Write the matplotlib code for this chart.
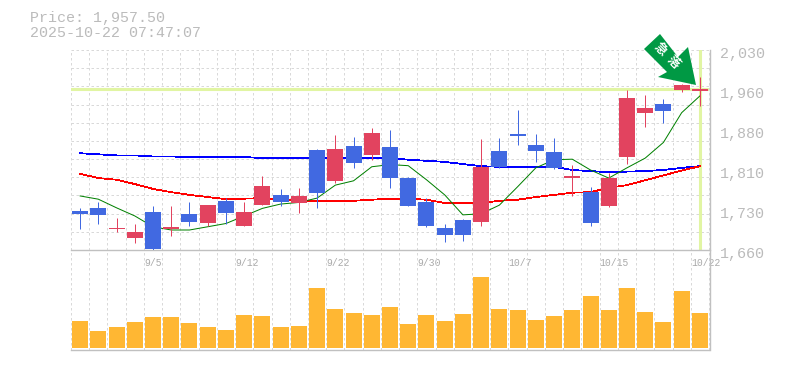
import matplotlib
matplotlib.use("Agg")
import matplotlib.pyplot as plt
from matplotlib.patches import Polygon

COLOR_UP = "#e2435f"
COLOR_DOWN = "#4169e1"
COLOR_VOL = "#ffb733"
COLOR_GRID = "#d9d9d9"
COLOR_AXIS = "#c0c0c0"
COLOR_TEXT = "#bbbbbb"
COLOR_MARK = "#e1f5a3"
COLOR_ARROW = "#009944"

PRICE_TOP = 2030
PRICE_BOTTOM = 1660
CURRENT = 1957.5

price_ticks = [2030, 1956, 1882, 1808, 1734, 1660]
price_labels = ["2,030", "1,960", "1,880", "1,810", "1,730", "1,660"]
date_pos = [4, 9, 14, 19, 24, 29, 34]
date_labels = ["9/5", "9/12", "9/22", "9/30", "10/7", "10/15", "10/22"]

opens = [1732, 1738, 1699, 1682, 1730, 1699, 1727, 1710, 1751, 1704, 1743, 1762, 1747,
         1845, 1788, 1852, 1836, 1851, 1793, 1749, 1701, 1716, 1712, 1843, 1875, 1854,
         1841, 1793, 1767, 1741, 1832, 1913, 1930, 1956, 1954]
closes = [1727, 1725, 1701, 1693, 1662, 1703, 1712, 1743, 1728, 1730, 1778, 1749, 1760,
          1765, 1847, 1821, 1876, 1793, 1741, 1704, 1688, 1688, 1814, 1814, 1871, 1843,
          1812, 1797, 1710, 1793, 1941, 1923, 1917, 1965, 1957.5]
highs = [1738, 1749, 1719, 1708, 1741, 1741, 1749, 1743, 1756, 1749, 1797, 1773, 1775,
         1847, 1873, 1869, 1886, 1882, 1795, 1756, 1708, 1717, 1865, 1867, 1919, 1875,
         1867, 1817, 1777, 1802, 1956, 1947, 1939, 1967, 1980]
lows = [1699, 1708, 1693, 1673, 1658, 1686, 1704, 1704, 1708, 1704, 1743, 1741, 1728,
        1738, 1784, 1812, 1826, 1775, 1741, 1703, 1675, 1677, 1704, 1812, 1854, 1823,
        1810, 1760, 1704, 1740, 1819, 1888, 1895, 1952, 1926]

ma_short = [1760, 1754, 1738, 1723, 1703, 1697, 1697, 1703, 1709, 1723, 1737, 1745, 1748,
            1756, 1780, 1788, 1814, 1818, 1816, 1790, 1762, 1725, 1727, 1743, 1777, 1812,
            1827, 1828, 1808, 1793, 1812, 1830, 1859, 1914, 1945]
ma_mid = [1801, 1793, 1790, 1782, 1773, 1767, 1762, 1758, 1754, 1755, 1756, 1753, 1751,
          1751, 1751, 1751, 1753, 1755, 1755, 1753, 1747, 1747, 1747, 1751, 1753, 1758,
          1762, 1766, 1767, 1775, 1780, 1789, 1798, 1807, 1815]
ma_long = [1839, 1837, 1835, 1835, 1833, 1833, 1832, 1832, 1832, 1832, 1830, 1830, 1830,
           1830, 1830, 1830, 1830, 1830, 1827, 1825, 1823, 1819, 1815, 1814, 1814, 1814,
           1814, 1808, 1806, 1804, 1805, 1806, 1808, 1812, 1815]

volumes = [27, 17, 21, 26, 31, 31, 25, 21, 18, 33, 32, 21, 22, 60, 39, 35, 33, 41,
           24, 33, 27, 34, 71, 39, 38, 28, 32, 38, 52, 38, 60, 36, 26, 57, 35]

n = len(closes)
fig = plt.figure(figsize=(7.85, 3.70), dpi=100)
W, H = 785, 370
L, R = 71, 709
PX = 0.72
mono = "Liberation Mono"


def make_ax(top, bottom):
    return fig.add_axes([L / W, 1 - bottom / H, (R - L) / W, (bottom - top) / H])


ax = make_ax(50, 250)
ax_vol = make_ax(250, 350)

x_grid = [i - 0.5 for i in range(n + 1)]
y_grid = [PRICE_TOP - k * (PRICE_TOP - PRICE_BOTTOM) / 11 for k in range(12)]

for a in (ax, ax_vol):
    a.set_xlim(-0.5, n - 0.5)
    for x in x_grid:
        a.axvline(x, color=COLOR_GRID, lw=PX, ls=(0, (2.5, 2.5)), zorder=0, clip_on=False)
    for s in ("left", "top"):
        a.spines[s].set_visible(False)
    a.spines["right"].set_color(COLOR_AXIS)
    a.spines["bottom"].set_color(COLOR_AXIS)
    a.spines["right"].set_position(("outward", 1))
    a.spines["right"].set_linewidth(1.0)
    a.spines["bottom"].set_linewidth(1.0)
    a.set_xticks([])
    a.set_yticks([])
    a.patch.set_alpha(0)

ax.set_ylim(PRICE_BOTTOM, PRICE_TOP)
for y in y_grid[:-1]:
    ax.axhline(y, color=COLOR_GRID, lw=PX, ls=(0, (2.5, 2.5)), zorder=0, clip_on=False)

ax.axhline(CURRENT, color=COLOR_MARK, lw=2.2, zorder=1)
ax.axvline(n - 1, color=COLOR_MARK, lw=2.2, zorder=1)

ax.plot(range(n), ma_long, color="#0000ff", lw=0.55, zorder=2, antialiased=False)
ax.plot(range(n), ma_mid, color="#ff0000", lw=0.55, zorder=2, antialiased=False)
ax.plot(range(n), ma_short, color="#008000", lw=PX, zorder=2)

for i in range(n):
    color = COLOR_UP if closes[i] >= opens[i] else COLOR_DOWN
    ax.vlines(i, lows[i], highs[i], color=color, lw=PX, zorder=3)
    ax.bar(i, abs(closes[i] - opens[i]), bottom=min(opens[i], closes[i]), width=0.877,
           color=color, zorder=3)

ax_vol.set_ylim(-2, 98)
ax_vol.bar(range(n), volumes, width=0.877, color=COLOR_VOL, zorder=3)

for tick, label in zip(price_ticks, price_labels):
    ax.annotate(label, xy=(1, tick), xycoords=ax.get_yaxis_transform(), xytext=(11, -4),
                textcoords="offset pixels", family=mono, fontsize=10.8, color=COLOR_TEXT,
                ha="left", va="center", annotation_clip=False)

for pos, label in zip(date_pos, date_labels):
    ax.annotate(label, xy=(pos - 0.5, 0), xycoords=ax.get_xaxis_transform(), xytext=(0, -13),
                textcoords="offset pixels", family=mono, fontsize=7, color="#aaaaaa",
                ha="left", va="center", annotation_clip=False)

fig.text(30 / W, 1 - 18 / H, "Price: 1,957.50", family=mono, fontsize=10.8, color=COLOR_TEXT,
         ha="left", va="center")
fig.text(30 / W, 1 - 33 / H, "2025-10-22 07:47:07", family=mono, fontsize=10.8, color=COLOR_TEXT,
         ha="left", va="center")

# signal arrow sits on top, in figure pixels
arrow_px = [(660, 34), (644, 49), (667, 72), (658, 77), (696, 85), (688, 47), (678, 57)]
fig.add_artist(Polygon([(x / W, 1 - y / H) for x, y in arrow_px], closed=True,
                       transform=fig.transFigure, color=COLOR_ARROW, lw=0, zorder=5))
for (tx, ty), ch in zip([(660, 49), (673, 62)], ["急", "落"]):
    fig.text(tx / W, 1 - ty / H, ch, family=["Noto Sans CJK JP", "DejaVu Sans"], fontsize=9,
             fontweight="bold", color="white", rotation=-45, rotation_mode="anchor",
             ha="center", va="center", zorder=6)

fig.savefig("out.png", dpi=100)
